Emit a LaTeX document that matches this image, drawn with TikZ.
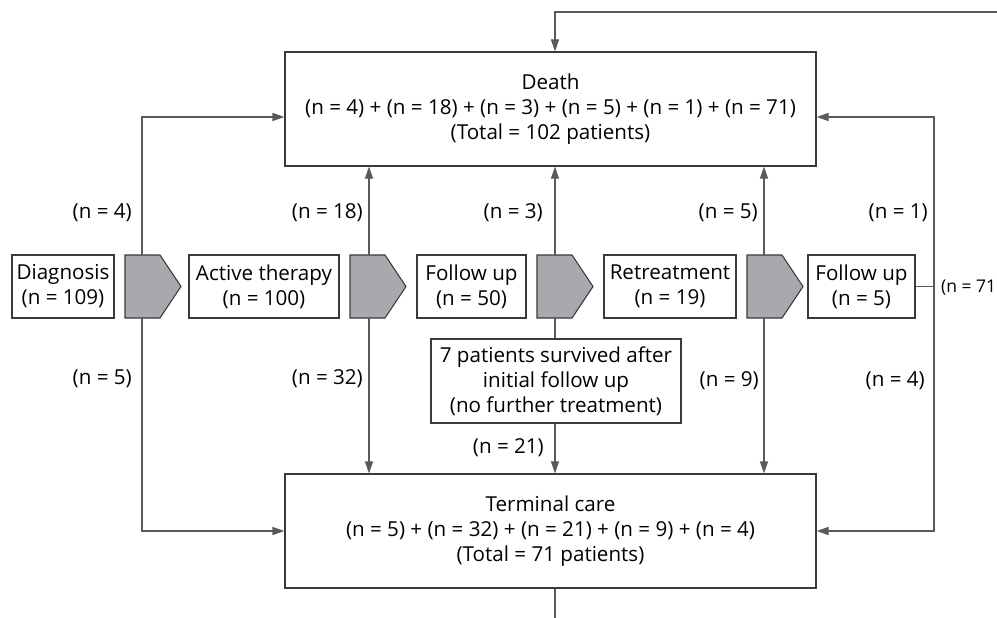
\documentclass[tikz,border=0pt]{standalone}
\usepackage{fontspec}
\setmainfont{Open Sans}
\usetikzlibrary{arrows.meta}
\definecolor{linegray}{HTML}{5A5A5A}
\definecolor{boxgray}{HTML}{3A3A3A}
\definecolor{chevfill}{HTML}{A8A9AC}
\newcommand\mychev[3]{% left x, line x, name
  \draw[chev] (#1,255) -- ++(35,0) -- ++(21,31.5) -- ++(-21,31.5) -- ++(-35,0) -- cycle;
  \coordinate (#3t) at (#2,255);
  \coordinate (#3b) at (#2,318);}
\begin{document}
\begin{tikzpicture}[x=1pt,y=-1pt,
  font=\fontsize{20.6}{25}\selectfont,
  box/.style={draw=boxgray, line width=1.1pt, fill=white, align=center, inner sep=0pt, minimum height=63pt},
  big/.style={box, minimum width=531pt, minimum height=114pt},
  conn/.style={draw=linegray, line width=1.1pt},
  arr/.style={conn, -{Triangle[length=12pt,width=8pt]}},
  lbl/.style={anchor=east, inner sep=0pt},
  chev/.style={draw=boxgray, fill=chevfill, line width=1.1pt}]
\useasboundingbox (0,0) rectangle (997,618);
% main boxes
\node[big] (death) at (550.5,109) {Death\\(n = 4) + (n = 18) + (n = 3) + (n = 5) + (n = 1) + (n = 71)\\(Total = 102 patients)};
\node[big] (term) at (550.5,531) {Terminal care\\(n = 5) + (n = 32) + (n = 21) + (n = 9) + (n = 4)\\(Total = 71 patients)};
\node[box, minimum width=102pt] (diag) at (63,286.5) {Diagnosis\\(n = 109)};
\node[box, minimum width=150pt] (act) at (264,286.5) {Active therapy\\(n = 100)};
\node[box, minimum width=109pt] (fu1) at (471.5,286.5) {Follow up\\(n = 50)};
\node[box, minimum width=132pt] (ret) at (670,286.5) {Retreatment\\(n = 19)};
\node[box, minimum width=107pt] (fu2) at (861.5,286.5) {Follow up\\(n = 5)};
\node[box, minimum width=250pt, minimum height=84pt] (surv) at (556,381) {7 patients survived after\\initial follow up\\(no further treatment)};
% chevrons
\mychev{125}{142}{ca}
\mychev{350}{369}{cb}
\mychev{537}{555}{cc}
\mychev{747}{764}{cd}
% connectors
\draw[arr] (cat) |- ([yshift=-8pt]death.west);
\draw[arr] (cab) |- (term.west);
\draw[arr] (cbt) -- (death.south -| cbt);
\draw[arr] (cbb) -- (term.north -| cbb);
\draw[arr] (cct) -- (death.south -| cct);
\draw[conn] (ccb) -- (surv.north -| ccb);
\draw[arr] (surv.south -| ccb) -- (term.north -| ccb);
\draw[arr] (cdt) -- (death.south -| cdt);
\draw[arr] (cdb) -- (term.north -| cdb);
\coordinate (rj) at (934,286.5);
\draw[conn] (fu2.east) -- (rj);
\draw[arr] (rj) |- ([yshift=-8pt]death.east);
\draw[arr] (rj) |- (term.east);
\coordinate (topR) at (997,12);
\draw[arr] (topR) -| (death.north -| cct);
\coordinate (botE) at (555,618);
\draw[conn] (term.south -| ccb) -- (botE);
% labels
\node[lbl] (l4) at (132,213) {(n = 4)};
\node[lbl] (l18) at (363,213) {(n = 18)};
\node[lbl] (l3) at (543,213) {(n = 3)};
\node[lbl] (l5a) at (758,213) {(n = 5)};
\node[lbl] (l1) at (928,213) {(n = 1)};
\node[lbl] (l5) at (132,379) {(n = 5)};
\node[lbl] (l32) at (363,379) {(n = 32)};
\node[lbl] (l21) at (544,448) {(n = 21)};
\node[lbl] (l9) at (759,381) {(n = 9)};
\node[lbl] (l4b) at (925,381) {(n = 4)};
\node[anchor=west, inner sep=0pt, font=\fontsize{17.5}{20}\selectfont] (l71) at (941,288) {(n = 71};
\end{tikzpicture}
\end{document}
